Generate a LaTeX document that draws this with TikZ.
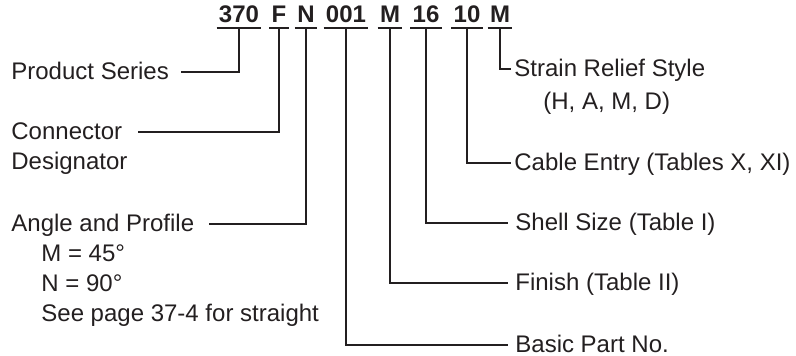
\documentclass[tikz,border=0pt]{standalone}
\usepackage{fontspec}
\setmainfont{Liberation Sans}
\definecolor{TintaPieza}{RGB}{35,31,32}

\begin{document}
\begin{tikzpicture}[
  x=0.5pt, y=-0.5pt,
  font=\fontsize{12pt}{15pt}\selectfont,
  every node/.style={text=TintaPieza},
  codigo/.style={font=\fontsize{12pt}{15pt}\selectfont\bfseries, anchor=base,
    inner xsep=1pt, inner ysep=2.5pt, text height=8.6pt, text depth=0pt},
  etiqueta/.style={anchor=base west, inner sep=0pt, text height=8pt, text depth=0pt},
  linea/.style={line width=1.1pt, TintaPieza},
]
\useasboundingbox (0,0) rectangle (796,356);

% --- Numero de pieza ---
\node[codigo] (c370) at (239,23) {370};
\node[codigo] (cF)   at (279,23) {F};
\node[codigo] (cN)   at (306,23) {N};
\node[codigo] (c001) at (346,23) {001};
\node[codigo] (cM)   at (390,23) {M};
\node[codigo] (c16)  at (426,23) {16};
\node[codigo] (c10)  at (467,23) {10};
\node[codigo] (cMb)  at (500,23) {M};

\draw[linea] (c370.south west) -- (c370.south east);
\draw[linea] (cF.south west) -- (cF.south east);
\draw[linea] (cN.south west) -- (cN.south east);
\draw[linea] (c001.south west) -- (c001.south east);
\draw[linea] (cM.south west) -- (cM.south east);
\draw[linea] (c16.south west) -- (c16.south east);
\draw[linea] (c10.south west) -- (c10.south east);
\draw[linea] (cMb.south west) -- (cMb.south east);

% --- Etiquetas a la izquierda ---
\node[etiqueta] (serie) at (11,80) {Product Series};
\node[etiqueta] (conector) at (11,140) {Connector};
\node[etiqueta] (designador) at (11,170) {Designator};
\node[etiqueta] (angulo) at (11,232) {Angle and Profile};
\node[etiqueta] (angM) at (41,262) {M = 45°};
\node[etiqueta] (angN) at (41,292) {N = 90°};
\node[etiqueta] (recto) at (41,322) {See page 37-4 for straight};

% --- Etiquetas a la derecha ---
\node[etiqueta] (alivio) at (514,77) {Strain Relief Style};
\node[etiqueta] (estilos) at (543,110) {(H, A, M, D)};
\node[etiqueta] (entrada) at (514,171) {Cable Entry (Tables X, XI)};
\node[etiqueta] (carcasa) at (515,231) {Shell Size (Table I)};
\node[etiqueta] (acabado) at (515,291) {Finish (Table II)};
\node[etiqueta] (basica) at (515,353) {Basic Part No.};

% --- Conectores ---
\draw[linea] (c370.south) |- ([xshift=6pt]serie.east);
\draw[linea] (cF.south) |- ([xshift=7.5pt]conector.east);
\draw[linea] (cN.south) |- ([xshift=7pt]angulo.east);
\draw[linea] (c001.south) |- ([xshift=-3.5pt]basica.west);
\draw[linea] (cM.south) |- ([xshift=-3.5pt]acabado.west);
\draw[linea] (c16.south) |- ([xshift=-3.5pt]carcasa.west);
\draw[linea] (c10.south) |- ([xshift=-1.5pt]entrada.west);
\draw[linea] (cMb.south) |- ([xshift=-1.5pt]alivio.west);

\end{tikzpicture}
\end{document}
